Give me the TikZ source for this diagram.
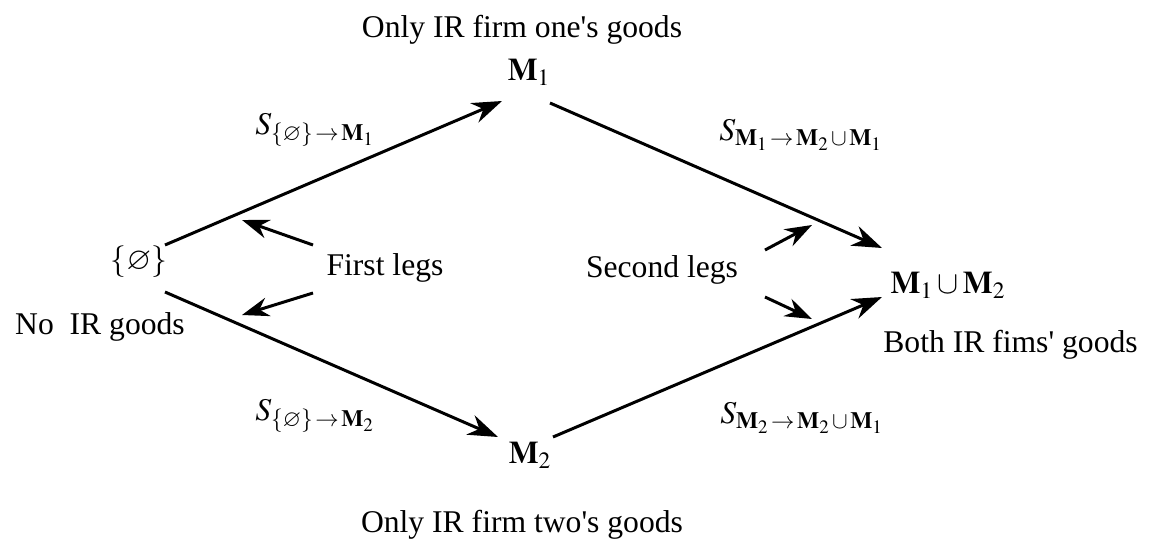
\documentclass[tikz,border=0pt]{standalone}
\usepackage{mathptmx}
\usepackage{amssymb}
\usepackage[no-math]{fontspec}
\setmainfont{Liberation Serif}
\usetikzlibrary{positioning, arrows.meta, calc}
\tikzset{
  every node/.style={font=\fontsize{18}{21}\selectfont},
  setnode/.style={inner sep=2pt},
  caption/.style={inner sep=0pt},
  steplabel/.style={inner sep=0pt},
  legarrow/.style={-{Stealth[length=6mm, width=4.2mm]}, line width=1.7pt},
  hintarrow/.style={-{Stealth[length=5.4mm, width=3.8mm]}, line width=1.7pt}
}
\newcommand{\sw}{\mskip2mu\rightarrow\mskip2mu}
\newcommand{\un}{\mskip2mu\cup\mskip2mu}

\begin{document}
\begin{tikzpicture}[x=0.02cm, y=-0.02cm]
\useasboundingbox (0,0) rectangle (1152,551);

% ── The four sets of goods ───────────────────────────────────────────────────
\node[setnode] (e)  at (139,262) {$\{\varnothing\}$};
\node[setnode] (m1) at (529,72)  {$\mathbf{M}_1$};
\node[setnode] (m2) at (530,455) {$\mathbf{M}_2$};
\node[setnode] (u)  at (948,285) {$\mathbf{M}_1\cup\mathbf{M}_2$};

% ── What each set means ──────────────────────────────────────────────────────
\node[caption] (topcap)  at (522,30)  {Only IR firm one\textquotesingle s goods};
\node[caption] (botcap)  at (522,525) {Only IR firm two\textquotesingle s goods};
\node[caption] (nonecap) at (100,327) {No\ \ IR goods};
\node[caption, anchor=west] (bothcap) at (883,345) {Both IR fims\textquotesingle{} goods};

% ── The legs of the diamond ──────────────────────────────────────────────────
\draw[legarrow] ($(e)+(26,-17)$)  -- ($(m1)+(-27,29)$);
\draw[legarrow] ($(m1)+(21,31)$)  -- ($(u)+(-66,-37)$);
\draw[legarrow] ($(e)+(26,30)$)   -- ($(m2)+(-32,-18)$);
\draw[legarrow] ($(m2)+(23,-18)$) -- ($(u)+(-66,12)$);

% ── Switch labels (y=130 above, y=417 below) ─────────────────────────────────
\node[steplabel] (s1) at (315,130) {$S_{\{\varnothing\}\sw\mathbf{M}_1}$};
\node[steplabel] (s2) at (315,416) {$S_{\{\varnothing\}\sw\mathbf{M}_2}$};
\node[steplabel] (s3) at (801,135) {$S_{\mathbf{M}_1\sw\mathbf{M}_2\un\mathbf{M}_1}$};
\node[steplabel] (s4) at (802,418) {$S_{\mathbf{M}_2\sw\mathbf{M}_2\un\mathbf{M}_1}$};

% ── First / second legs pointers ─────────────────────────────────────────────
\node[caption] (fl) at (385,268) {First legs};
\node[caption] (sl) at (662,270) {Second legs};
\coordinate (fa) at (242,220);
\coordinate (fb) at (242,315);
\coordinate (sa) at (812,225);
\coordinate (sb) at (812,319);
\draw[hintarrow] ($(fl)+(-72,-23)$) -- (fa);
\draw[hintarrow] ($(fl)+(-72,25)$)  -- (fb);
\draw[hintarrow] ($(sl)+(103,-20)$) -- (sa);
\draw[hintarrow] ($(sl)+(103,27)$)  -- (sb);

\end{tikzpicture}
\end{document}
